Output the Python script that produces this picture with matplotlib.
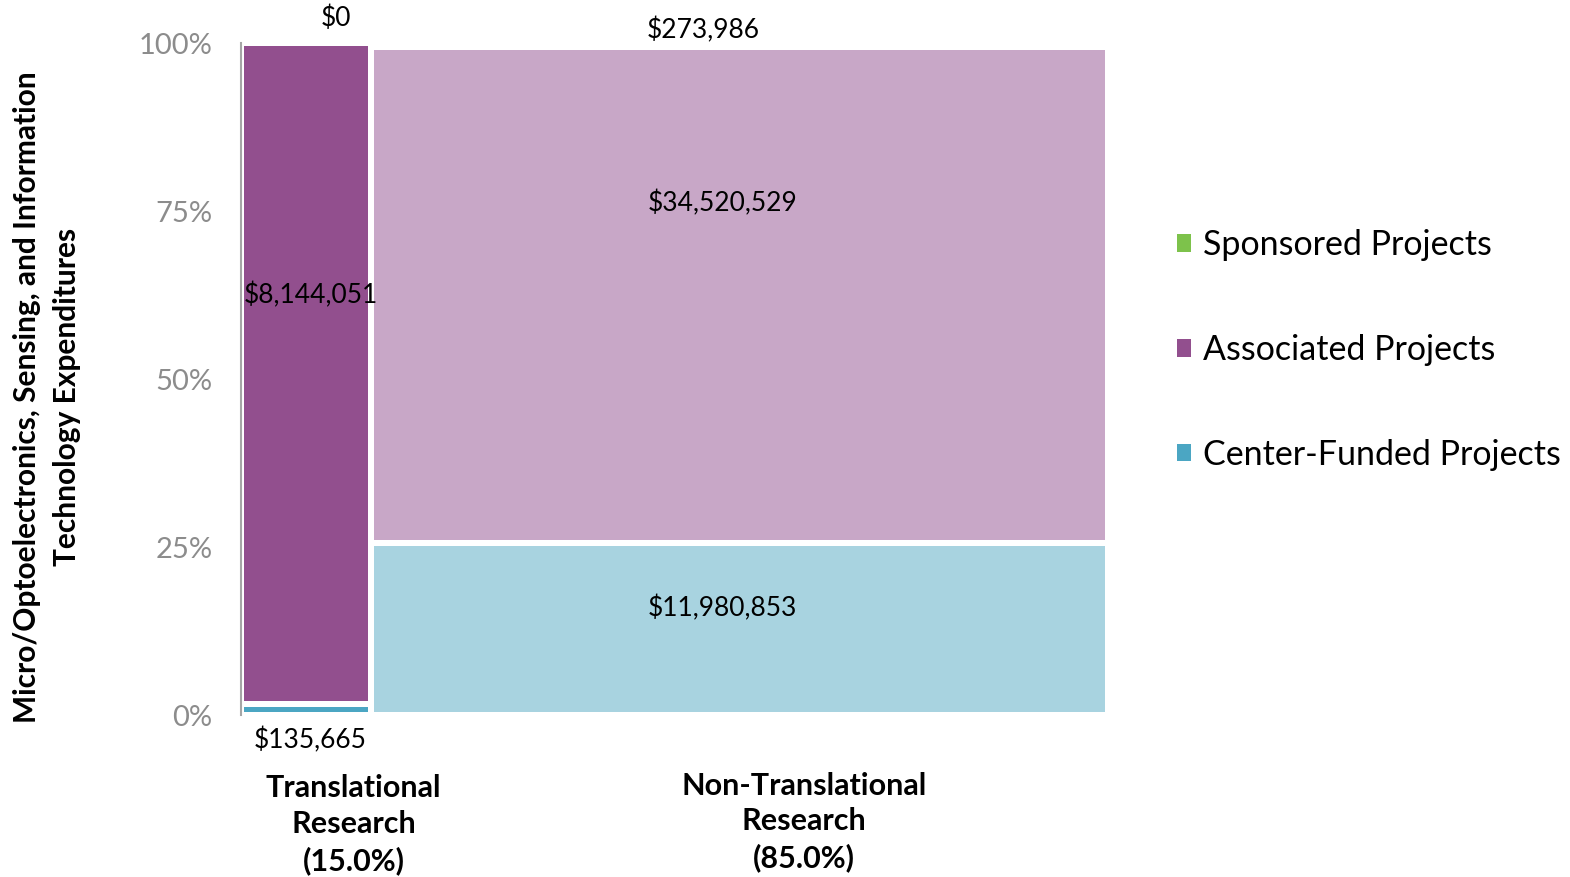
import numpy as np
import matplotlib.pyplot as plt
from matplotlib.patches import Patch

plt.rcParams['font.family'] = ['Lato', 'DejaVu Sans']

# expenditures by research type (columns) and funding source (stacked)
research = ['Translational\nResearch', 'Non-Translational\nResearch']
sources = ['Sponsored Projects', 'Associated Projects', 'Center-Funded Projects']
sponsored = [0, 273986]
associated = [8144051, 34520529]
center_funded = [135665, 11980853]

# colours per source, one shade per column
colors = {
    'Sponsored Projects': ['#7DC24B', '#BEE0A5'],
    'Associated Projects': ['#924F8E', '#C8A7C7'],
    'Center-Funded Projects': ['#4BA6C3', '#A8D3E0'],
}
legend_colors = ['#7DC24B', '#924F8E', '#4BA6C3']

# label placement (axes fraction) for each segment label
label_pos = {
    'Sponsored Projects': [(0.110, 1.037), (0.533, 1.019)],
    'Associated Projects': [(0.081, 0.625), (0.555, 0.762)],
    'Center-Funded Projects': [(0.080, -0.037), (0.555, 0.159)],
}
cat_label_pos = [(0.130, -0.163), (0.649, -0.159)]

values = {'Sponsored Projects': np.array(sponsored, float),
          'Associated Projects': np.array(associated, float),
          'Center-Funded Projects': np.array(center_funded, float)}
col_tot = sum(values.values())
widths = col_tot / col_tot.sum()
lefts = np.concatenate([[0], np.cumsum(widths)[:-1]])

W, H = 1570, 877
fig = plt.figure(figsize=(W / 100, H / 100), dpi=100)
ax = fig.add_axes([241 / W, (H - 715) / H, 867 / W, 672 / H])

edge_lw = 6 * 72 / 100
bottom = np.zeros(2)
for name in ['Center-Funded Projects', 'Associated Projects', 'Sponsored Projects']:
    frac = values[name] / col_tot
    ax.bar(lefts, frac, width=widths, bottom=bottom, align='edge',
           color=colors[name], edgecolor='white', linewidth=edge_lw, zorder=2)
    for i in range(2):
        x, y = label_pos[name][i]
        ax.text(x, y, '${:,.0f}'.format(values[name][i]), transform=ax.transAxes,
                ha='center', va='center', fontsize=19, color='black', zorder=3,
                clip_on=False)
    bottom += frac

ax.set_xlim(0, 1)
ax.set_ylim(0, 1)
ax.set_xticks([])
ax.set_yticks([0, 0.25, 0.5, 0.75, 1.0])
ax.set_yticklabels(['0%', '25%', '50%', '75%', '100%'])
ax.tick_params(axis='y', length=0, pad=20.5, labelsize=21, labelcolor='#8C8C8C')
for s in ['top', 'right', 'bottom']:
    ax.spines[s].set_visible(False)
ax.spines['left'].set_color('#A6A6A6')
ax.spines['left'].set_linewidth(1.5)

for i, name in enumerate(research):
    x, y = cat_label_pos[i]
    ax.text(x, y, '{}\n({:.1f}%)'.format(name, widths[i] * 100),
            transform=ax.transAxes, ha='center', va='center', fontsize=22,
            fontweight='bold', linespacing=1.33)

fig.text(47 / W, 1 - 397 / H,
         'Micro/Optoelectronics, Sensing, and Information\nTechnology Expenditures',
         rotation=90, ha='center', va='center', fontsize=21.5, fontweight='bold',
         linespacing=1.5)

handles = [Patch(facecolor=c, edgecolor='none') for c in legend_colors]
fig.legend(handles, sources, loc='center left', bbox_to_anchor=(1160 / W, 1 - 350 / H),
           frameon=False, fontsize=24.5, handlelength=0.42, handleheight=0.42,
           handletextpad=0.35, labelspacing=2.14, borderpad=0)

fig.savefig('out.png', dpi=100)
